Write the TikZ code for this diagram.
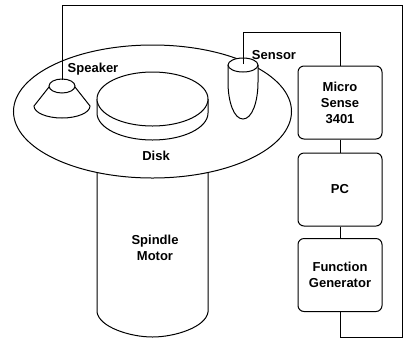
\documentclass[tikz,border=0pt]{standalone}
\usepackage{fontspec}
\setmainfont{Liberation Sans}
\tikzset{
    part/.style={draw=black, line width=1pt, fill=white},
    wire/.style={draw=black, line width=1pt},
    unit/.style={draw=black, line width=1pt, rounded corners=6pt, fill=white,
        minimum width=84pt, minimum height=73pt, inner sep=0pt,
        align=center, font=\fontsize{13}{16}\selectfont\bfseries},
    tag/.style={inner sep=0pt, align=center, font=\fontsize{13}{16}\selectfont\bfseries}
}

\begin{document}
\begin{tikzpicture}[x=1pt, y=-1pt]
\useasboundingbox (0,0) rectangle (403,341);

% Spindle motor and base plate
\draw[part] (97,160) -- (97,312) .. controls (99,327) and (130,337) .. (152.5,337)
    .. controls (175,337) and (206,327) .. (208,312) -- (208,160);
\draw[part] (152.5,111.5) ellipse (139 and 66.5);

% Disk
\draw[part] (97,99) -- (97,113) arc (180:0:55.5 and 27) -- (208,99);
\draw[part] (152.5,99) ellipse (55.5 and 27);

% Speaker
\draw[part] (49,87) -- (34,106) arc (180:0:28 and 12) -- (75,87);
\draw[part] (62,86) ellipse (13 and 7);

% Sensor
\draw[part] (228,65) -- (228,82) .. controls (228,102) and (234,119) .. (243,119)
    .. controls (252,119) and (258,102) .. (258,82) -- (258,65);
\draw[part] (243,65) ellipse (15 and 7);

% Instrument chain
\node[unit] (micro) at (340,102.5) {Micro\\Sense\\3401};
\node[unit] (pc) at (340,189.5) {PC};
\node[unit] (generator) at (340,275) {Function\\Generator};

\coordinate (speakertop) at (62,80);
\coordinate (sensortop) at (243,64);
\coordinate (topright) at (402,5);
\coordinate (bottomright) at (402,337);

% Connections
\draw[wire] (micro.south) -- (pc.north);
\draw[wire] (pc.south) -- (generator.north);
\draw[wire] (sensortop) |- (340,32) -- (micro.north);
\draw[wire] (speakertop) |- (topright) -- (bottomright) -| (generator.south);

% Labels
\node[tag] (speakerlabel) at (93,69) {Speaker};
\node[tag] (disklabel) at (156,156) {Disk};
\node[tag] (sensorlabel) at (274,55) {Sensor};
\node[tag] (motorlabel) at (155,248) {Spindle\\Motor};

\end{tikzpicture}
\end{document}
